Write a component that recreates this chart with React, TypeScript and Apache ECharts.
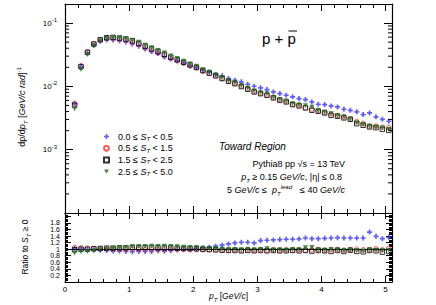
import React, { useEffect, useRef } from 'react';
import * as echarts from 'echarts';

const FONT = '"Liberation Sans", Arial, Helvetica, sans-serif';

// pT bin centres (GeV/c)
const PT = [0.15, 0.25, 0.35, 0.45, 0.55, 0.65, 0.75, 0.85, 0.95, 1.05, 1.15, 1.25, 1.35, 1.45, 1.55, 1.65, 1.75, 1.85, 1.95, 2.05, 2.15, 2.25, 2.35, 2.45, 2.55, 2.65, 2.75, 2.85, 2.95, 3.05, 3.15, 3.25, 3.35, 3.45, 3.55, 3.65, 3.75, 3.85, 3.95, 4.05, 4.15, 4.25, 4.35, 4.45, 4.55, 4.65, 4.75, 4.85, 4.95, 5.05];

// dp/dpT spectra per S_T class
const BLUE_Y = [0.00531, 0.0204, 0.0337, 0.0447, 0.0518, 0.0545, 0.0541, 0.0527, 0.0503, 0.0467, 0.0430, 0.0390, 0.0356, 0.0330, 0.0292, 0.0270, 0.0253, 0.0233, 0.0212, 0.0198, 0.01796, 0.01694, 0.01536, 0.01465, 0.01328, 0.01248, 0.01178, 0.01079, 0.01004, 0.00947, 0.00890, 0.00818, 0.00770, 0.00724, 0.00683, 0.00642, 0.00619, 0.00569, 0.00522, 0.00516, 0.00492, 0.00474, 0.00435, 0.00419, 0.00396, 0.00358, 0.00381, 0.00330, 0.00302, 0.00281];
const RED_Y = [0.00541, 0.0212, 0.0354, 0.0471, 0.0540, 0.0568, 0.0576, 0.0550, 0.0531, 0.0494, 0.0454, 0.0403, 0.0364, 0.0337, 0.0302, 0.0276, 0.0253, 0.0233, 0.0210, 0.0196, 0.0174, 0.0160, 0.0147, 0.0133, 0.0121, 0.01125, 0.01013, 0.00918, 0.00834, 0.00782, 0.00735, 0.00671, 0.00615, 0.00586, 0.00521, 0.00507, 0.00462, 0.00436, 0.00416, 0.00389, 0.00366, 0.00347, 0.00331, 0.00305, 0.00279, 0.00260, 0.00236, 0.00236, 0.00227, 0.00224];
const BLACK_Y = [0.00506, 0.0204, 0.0344, 0.0466, 0.0545, 0.0586, 0.0594, 0.0579, 0.0559, 0.0525, 0.0478, 0.0433, 0.0391, 0.0355, 0.0321, 0.0290, 0.0264, 0.0240, 0.0219, 0.0200, 0.0178, 0.0162, 0.0147, 0.0133, 0.0120, 0.01103, 0.00993, 0.00900, 0.00818, 0.00767, 0.00721, 0.00658, 0.00603, 0.00569, 0.00516, 0.00492, 0.00457, 0.00419, 0.00404, 0.00381, 0.00349, 0.00337, 0.00318, 0.00302, 0.00258, 0.00243, 0.00229, 0.00223, 0.00210, 0.00202];
const GREEN_Y = [0.00445, 0.0184, 0.0320, 0.0438, 0.0523, 0.0568, 0.0588, 0.0579, 0.0565, 0.0536, 0.0497, 0.0446, 0.0407, 0.0369, 0.0337, 0.0302, 0.0275, 0.0250, 0.0226, 0.0208, 0.0183, 0.0167, 0.0151, 0.0137, 0.0122, 0.01136, 0.01023, 0.00936, 0.00843, 0.00790, 0.00764, 0.00665, 0.00621, 0.00580, 0.00531, 0.00507, 0.00494, 0.00469, 0.00412, 0.00389, 0.00370, 0.00344, 0.00328, 0.00302, 0.00266, 0.00248, 0.00234, 0.00227, 0.00221, 0.00210];

// ratios to S_T >= 0
const BLUE_R = [1.03, 1.00, 0.99, 0.98, 0.97, 0.96, 0.94, 0.94, 0.93, 0.92, 0.93, 0.93, 0.93, 0.95, 0.94, 0.96, 0.98, 0.99, 0.99, 1.01, 1.04, 1.06, 1.09, 1.12, 1.16, 1.19, 1.21, 1.21, 1.19, 1.26, 1.27, 1.28, 1.29, 1.30, 1.30, 1.31, 1.34, 1.32, 1.32, 1.33, 1.34, 1.35, 1.34, 1.34, 1.34, 1.34, 1.52, 1.39, 1.32, 1.36];
const RED_R = [1.05, 1.04, 1.03, 1.02, 1.01, 1.00, 1.00, 0.99, 0.99, 0.99, 0.99, 0.98, 0.98, 0.99, 0.98, 0.99, 0.99, 0.99, 0.98, 0.99, 0.98, 0.98, 0.98, 0.97, 0.97, 0.98, 0.97, 0.98, 0.97, 0.98, 0.97, 0.98, 0.97, 0.98, 0.97, 0.98, 0.97, 0.98, 0.99, 0.97, 0.98, 0.99, 0.97, 0.98, 1.00, 0.98, 0.99, 1.01, 0.98, 1.03];
const BLACK_R = [0.98, 1.00, 1.00, 1.01, 1.02, 1.03, 1.03, 1.04, 1.04, 1.05, 1.04, 1.05, 1.05, 1.04, 1.04, 1.04, 1.03, 1.02, 1.02, 1.01, 1.00, 0.99, 0.98, 0.97, 0.96, 0.96, 0.95, 0.96, 0.95, 0.96, 0.95, 0.96, 0.95, 0.95, 0.96, 0.95, 0.96, 0.94, 0.96, 0.95, 0.93, 0.96, 0.93, 0.97, 0.93, 0.92, 0.96, 0.95, 0.91, 0.93];
const GREEN_R = [0.88, 0.92, 0.93, 0.95, 0.98, 1.00, 1.02, 1.04, 1.05, 1.07, 1.08, 1.08, 1.09, 1.08, 1.09, 1.08, 1.07, 1.06, 1.05, 1.05, 1.03, 1.02, 1.01, 1.00, 0.98, 0.99, 0.98, 1.00, 0.98, 0.99, 1.01, 0.97, 0.98, 0.97, 0.99, 0.98, 1.04, 1.05, 0.98, 0.97, 0.99, 0.98, 0.96, 0.97, 0.96, 0.94, 0.98, 0.97, 0.96, 0.97];

const NAMES = ['0.0 ≤ ST < 0.5', '0.5 ≤ ST < 1.5', '1.5 ≤ ST < 2.5', '2.5 ≤ ST < 5.0'];

// log-axis minor tick values (2..9 per decade)
const DECADES = [1e-4, 1e-3, 1e-2];
const MULTS = [2, 3, 4, 5, 6, 7, 8, 9];
const LOG_MINOR = DECADES.flatMap((d) => MULTS.map((m) => m * d));

const X_MIN = 0;
const X_MAX = 5.1;

const CROSS = 'path://M1,0H2V1H3V2H2V3H1V2H0V1H1Z';
const TRI_DOWN = 'path://M0,0L2,0L1,1.732Z';

const STYLES = [
  { symbol: CROSS, symbolSize: 5, itemStyle: { color: '#3535ff', borderWidth: 0 } },
  { symbol: 'circle', symbolSize: 4.5, itemStyle: { color: 'rgba(0,0,0,0)', borderColor: '#ff2a2a', borderWidth: 1 } },
  { symbol: 'rect', symbolSize: 4.5, itemStyle: { color: 'rgba(0,0,0,0)', borderColor: '#000', borderWidth: 1 } },
  { symbol: TRI_DOWN, symbolSize: 5, itemStyle: { color: '#1e6e1e', borderWidth: 0 } },
];

const TOP_SETS = [BLUE_Y, RED_Y, BLACK_Y, GREEN_Y];
const RATIO_SETS = [BLUE_R, RED_R, BLACK_R, GREEN_R];

const RICH: any = {
  n: { fontSize: 9, fontFamily: FONT, color: '#000', lineHeight: 13 },
  i: { fontSize: 9, fontFamily: FONT, fontStyle: 'italic', color: '#000', lineHeight: 13 },
  sub: { fontSize: 6, fontFamily: FONT, fontStyle: 'italic', color: '#000', verticalAlign: 'bottom', lineHeight: 8 },
  sup: { fontSize: 6, fontFamily: FONT, color: '#000', verticalAlign: 'top', lineHeight: 8 },
  supi: { fontSize: 6, fontFamily: FONT, fontStyle: 'italic', color: '#000', verticalAlign: 'top', lineHeight: 8 },
};

function xAx(gridIndex: number, position: string, interval: number, len: number, withLine: boolean, labels = false) {
  return {
    type: 'value',
    gridIndex,
    position,
    min: X_MIN,
    max: X_MAX,
    interval,
    axisLine: { show: withLine, onZero: false, lineStyle: { color: '#000', width: 1.2 } },
    axisTick: { show: true, inside: true, length: len, lineStyle: { color: '#000', width: 1 } },
    axisLabel: labels
      ? {
          show: true,
          fontSize: 8,
          fontFamily: FONT,
          color: '#000',
          margin: 3,
          formatter: (v: number) => (Math.abs(v - Math.round(v)) < 1e-6 && v <= 5.01 ? String(Math.round(v)) : ''),
        }
      : { show: false },
    splitLine: { show: false },
  };
}

export default function App() {
  const ref = useRef<HTMLDivElement>(null);
  useEffect(() => {
    if (!ref.current) return;
    const chart = echarts.init(ref.current, null, { renderer: 'svg' });

    const topSeries = TOP_SETS.map((arr, k) => ({
      name: NAMES[k],
      type: 'scatter',
      xAxisIndex: 0,
      yAxisIndex: 0,
      symbol: STYLES[k].symbol,
      symbolSize: STYLES[k].symbolSize,
      itemStyle: STYLES[k].itemStyle,
      data: PT.map((x, i) => [x, arr[i]]),
      z: 3 + k,
    }));

    const ratioSeries = RATIO_SETS.map((arr, k) => ({
      name: 'ratio ' + NAMES[k],
      type: 'scatter',
      xAxisIndex: 4,
      yAxisIndex: 2,
      symbol: STYLES[k].symbol,
      symbolSize: STYLES[k].symbolSize,
      itemStyle: STYLES[k].itemStyle,
      data: PT.map((x, i) => [x, arr[i]]),
      z: 3 + k,
      ...(k === 0
        ? {
            markLine: {
              silent: true,
              symbol: 'none',
              label: { show: false },
              lineStyle: { color: '#000', width: 1, type: 'solid' },
              data: [{ yAxis: 1 }],
            },
          }
        : {}),
    }));

    const minorTicks = {
      type: 'custom',
      xAxisIndex: 0,
      yAxisIndex: 0,
      silent: true,
      clip: false,
      z: 10,
      data: LOG_MINOR.map((v) => [X_MIN, v]),
      renderItem: (params: any, api: any) => {
        const v = api.value(1);
        const pl = api.coord([X_MIN, v]);
        const pr = api.coord([X_MAX, v]);
        return {
          type: 'group',
          children: [
            { type: 'line', shape: { x1: pl[0], y1: pl[1], x2: pl[0] + 4, y2: pl[1] }, style: { stroke: '#000', lineWidth: 1 } },
            { type: 'line', shape: { x1: pr[0] - 4, y1: pr[1], x2: pr[0], y2: pr[1] }, style: { stroke: '#000', lineWidth: 1 } },
          ],
        };
      },
    };

    const logLabel = (v: number) => {
      const l = Math.log10(v);
      const e = Math.round(l);
      if (Math.abs(l - e) > 1e-6 || e <= -4 || e >= 0) return '';
      return '{b|10}{s|' + e + '}';
    };

    const option: any = {
      animation: false,
      backgroundColor: '#fff',
      textStyle: { fontFamily: FONT },
      grid: [
        { left: 65, top: 4, width: 327, height: 209, show: false },
        { left: 65, top: 213, width: 327, height: 69, show: false },
      ],
      xAxis: [
        xAx(0, 'bottom', 1, 7, true),
        xAx(0, 'bottom', 0.2, 4, false),
        xAx(0, 'top', 1, 7, true),
        xAx(0, 'top', 0.2, 4, false),
        xAx(1, 'bottom', 1, 6, true, true),
        xAx(1, 'bottom', 0.2, 3, false),
        xAx(1, 'top', 1, 6, true),
        xAx(1, 'top', 0.2, 3, false),
      ],
      yAxis: [
        {
          type: 'log',
          logBase: 10,
          gridIndex: 0,
          position: 'left',
          min: 1e-4,
          max: 0.2,
          axisLine: { show: true, onZero: false, lineStyle: { color: '#000', width: 1.2 } },
          axisTick: { show: true, inside: true, length: 8, lineStyle: { color: '#000', width: 1 } },
          axisLabel: {
            show: true,
            margin: 8,
            showMaxLabel: false,
            showMinLabel: false,
            formatter: logLabel,
            rich: {
              b: { fontSize: 8, fontFamily: FONT, color: '#000' },
              s: { fontSize: 6, fontFamily: FONT, color: '#000', verticalAlign: 'top', padding: [0, 0, 6, 0] },
            },
          },
          splitLine: { show: false },
        },
        {
          type: 'log',
          logBase: 10,
          gridIndex: 0,
          position: 'right',
          min: 1e-4,
          max: 0.2,
          axisLine: { show: true, onZero: false, lineStyle: { color: '#000', width: 1.2 } },
          axisTick: { show: true, inside: true, length: 8, lineStyle: { color: '#000', width: 1 } },
          axisLabel: { show: false },
          splitLine: { show: false },
        },
        {
          type: 'value',
          gridIndex: 1,
          position: 'left',
          min: 0,
          max: 2.1,
          interval: 0.2,
          axisLine: { show: true, onZero: false, lineStyle: { color: '#000', width: 1.2 } },
          axisTick: { show: true, inside: true, length: 6, lineStyle: { color: '#000', width: 1 } },
          minorTick: { show: true, splitNumber: 5, length: 3, lineStyle: { color: '#000', width: 1 } },
          axisLabel: {
            show: true,
            fontSize: 7,
            fontFamily: FONT,
            color: '#000',
            margin: 5,
            formatter: (v: number) => (v > 1.9 ? '' : String(+v.toFixed(1))),
          },
          splitLine: { show: false },
        },
        {
          type: 'value',
          gridIndex: 1,
          position: 'right',
          min: 0,
          max: 2.1,
          interval: 0.2,
          axisLine: { show: true, onZero: false, lineStyle: { color: '#000', width: 1.2 } },
          axisTick: { show: true, inside: true, length: 6, lineStyle: { color: '#000', width: 1 } },
          minorTick: { show: true, splitNumber: 5, length: 3, lineStyle: { color: '#000', width: 1 } },
          axisLabel: { show: false },
          splitLine: { show: false },
        },
      ],
      legend: {
        data: NAMES,
        orient: 'vertical',
        left: 103,
        top: 131,
        padding: 0,
        itemWidth: 5,
        itemHeight: 5,
        itemGap: 0.7,
        selectedMode: false,
        formatter: (name: string) => {
          const [a, b] = name.split('ST');
          return '{g|}{n|' + a + '}{i|S}{sub|T}{n|' + b + '}';
        },
        textStyle: {
          fontSize: 9,
          fontFamily: FONT,
          color: '#000',
          lineHeight: 11,
          rich: {
            g: { width: 4 },
            n: { fontSize: 9, fontFamily: FONT, color: '#000', lineHeight: 11 },
            i: { fontSize: 9, fontFamily: FONT, fontStyle: 'italic', color: '#000', lineHeight: 11 },
            sub: { fontSize: 6, fontFamily: FONT, fontStyle: 'italic', color: '#000', verticalAlign: 'bottom', lineHeight: 7 },
          },
        },
      },
      graphic: [
        {
          type: 'text',
          x: 22,
          y: 107,
          rotation: Math.PI / 2,
          style: {
            text: '{n|dp/d}{i|p}{sub|T}{n| [}{i|GeV/c rad}{n|]}{sup|-1}',
            rich: RICH,
            align: 'center',
            verticalAlign: 'middle',
          },
        },
        {
          type: 'text',
          x: 25,
          y: 247,
          rotation: Math.PI / 2,
          style: {
            text: '{n|Ratio to }{i|S}{sub|T}{n| ≥ 0}',
            rich: { ...RICH, n: { ...RICH.n, fontSize: 8.5 }, i: { ...RICH.i, fontSize: 8.5 } },
            align: 'center',
            verticalAlign: 'middle',
          },
        },
        {
          type: 'text',
          x: 209,
          y: 296,
          style: {
            text: '{i|p}{sub|T}{n| [}{i|GeV/c}{n|]}',
            rich: { ...RICH, n: { ...RICH.n, fontSize: 8.5 }, i: { ...RICH.i, fontSize: 8.5 } },
            align: 'left',
            verticalAlign: 'middle',
          },
        },
        {
          type: 'text',
          x: 262,
          y: 38,
          style: { text: 'p + p', font: '15px ' + FONT, fill: '#000', align: 'left', verticalAlign: 'middle' },
        },
        {
          type: 'line',
          shape: { x1: 288.5, y1: 31, x2: 297, y2: 31 },
          style: { stroke: '#000', lineWidth: 1 },
        },
        {
          type: 'text',
          x: 219,
          y: 146,
          style: { text: 'Toward Region', font: 'italic 10px ' + FONT, fill: '#000', align: 'left', verticalAlign: 'middle' },
        },
        {
          type: 'text',
          x: 345,
          y: 164,
          style: { text: 'Pythia8 pp √s = 13 TeV', font: '9px ' + FONT, fill: '#000', align: 'right', verticalAlign: 'middle' },
        },
        {
          type: 'text',
          x: 342,
          y: 177,
          style: {
            text: '{i|p}{sub|T}{n| ≥ 0.15 }{i|GeV/c}{n|, |η| ≤ 0.8}',
            rich: RICH,
            align: 'right',
            verticalAlign: 'middle',
          },
        },
        {
          type: 'text',
          x: 227,
          y: 190,
          style: {
            text: '{n|5 }{i|GeV/c}{n| ≤  }{i|p}{sub|T}{supi|lead}',
            rich: RICH,
            align: 'left',
            verticalAlign: 'middle',
          },
        },
        {
          type: 'text',
          x: 345,
          y: 190,
          style: {
            text: '{n|≤ 40 }{i|GeV/c}',
            rich: RICH,
            align: 'right',
            verticalAlign: 'middle',
          },
        },
      ],
      series: [...topSeries, ...ratioSeries, minorTicks],
    };

    chart.setOption(option);
    return () => chart.dispose();
  }, []);

  return <div ref={ref} style={{ position: 'absolute', left: 0, top: 0, width: 436, height: 305, background: '#fff' }} />;
}
